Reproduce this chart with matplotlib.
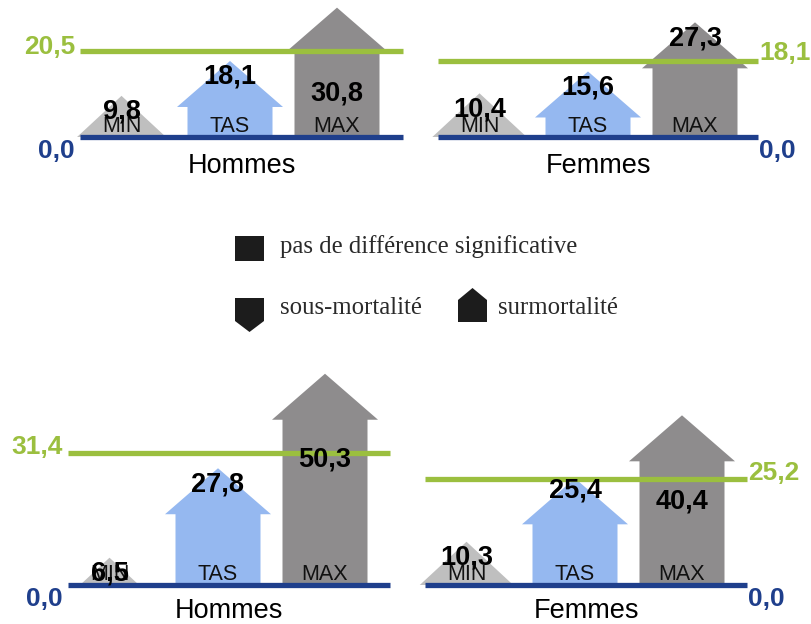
import matplotlib
matplotlib.use("Agg")
import matplotlib.pyplot as plt
from matplotlib.patches import Polygon, Rectangle

# ---------------- data ----------------
categories = ["MIN", "TAS", "MAX"]
panel_names = ["Hommes", "Femmes", "Hommes", "Femmes"]
values_hommes_top = [9.8, 18.1, 30.8]
values_femmes_top = [10.4, 15.6, 27.3]
values_hommes_bottom = [6.5, 27.8, 50.3]
values_femmes_bottom = [10.3, 25.4, 40.4]
reference_values = [20.5, 18.1, 31.4, 25.2]
baseline_values = [0.0, 0.0, 0.0, 0.0]
legend_labels = ["pas de différence significative", "sous-mortalité", "surmortalité"]

panel_values = [values_hommes_top, values_femmes_top,
                values_hommes_bottom, values_femmes_bottom]

# ---------------- style / layout ----------------
W, H = 811, 624
PXU = 4.2                       # pixels per data unit (vertical)
panel_box = [(80, 403, 137), (438, 758, 137), (68, 390, 585), (425, 747, 585)]
ref_side = ["left", "right", "left", "right"]
ref_lift = [6, 10, 9, 9]        # px, label centre above green line
name_drop = [36, 36, 33, 33]    # px, panel-name baseline below axis
cat_x = [41.5, 150, 257]        # category centres, px from panel left
label_drop = [[14, 14, 84], [14, 14, 14], [14, 14, 84], [14, 10, 84]]
shape_kind = ["tri", "house", "house"]
fills = ["#BFBFBF", "#95B8F0", "#8E8C8D"]
GREEN = "#9BBF3F"
BLUE = "#1F3F8C"
TXT = "#111111"
BODY_HW, ROOF_HW, ROOF_H = 42.5, 53.0, 46.0 / PXU
YLO, YHI = -12, 56


def fmt(v):
    return f"{v:.1f}".replace(".", ",")


fig = plt.figure(figsize=(W / 100, H / 100), dpi=100)
fig.patch.set_facecolor("white")

for i, (x0, x1, yb) in enumerate(panel_box):
    bot_px = yb - YLO * PXU
    top_px = yb - YHI * PXU
    ax = fig.add_axes([x0 / W, 1 - bot_px / H, (x1 - x0) / W, (bot_px - top_px) / H])
    ax.set_xlim(0, x1 - x0)
    ax.set_ylim(YLO, YHI)
    ax.axis("off")
    vals = panel_values[i]
    for j, v in enumerate(vals):
        c = cat_x[j]
        if shape_kind[j] == "tri":
            hw = 1.08 * v * PXU
            pts = [(c - hw, 0), (c, v), (c + hw, 0)]
        else:
            r = v - ROOF_H
            pts = [(c - BODY_HW, 0), (c - BODY_HW, r), (c - ROOF_HW, r), (c, v),
                   (c + ROOF_HW, r), (c + BODY_HW, r), (c + BODY_HW, 0)]
        ax.add_patch(Polygon(pts, closed=True, facecolor=fills[j], edgecolor="none",
                             zorder=1, clip_on=False))
        ax.text(c, 4.5 / PXU, categories[j], ha="center", va="baseline",
                fontsize=15.5, family="Liberation Sans", color=TXT, zorder=5)
    # lines
    ax.axhline(baseline_values[i], color=BLUE, lw=3.8, solid_capstyle="butt",
               zorder=3, clip_on=False)
    ax.axhline(reference_values[i], color=GREEN, lw=3.8, solid_capstyle="butt",
               zorder=3, clip_on=False)
    # value labels
    for j, v in enumerate(vals):
        ax.text(cat_x[j], v - (label_drop[i][j] + 9) / PXU, fmt(v), ha="center",
                va="baseline", fontsize=19.5, fontweight="bold",
                family="Liberation Sans", color="black", zorder=6)
    # axis value labels
    if ref_side[i] == "left":
        xt, ha = -5, "right"
    else:
        xt, ha = (x1 - x0) + 1, "left"
    ax.text(xt, reference_values[i] + ref_lift[i] / PXU, fmt(reference_values[i]),
            ha=ha, va="center_baseline", fontsize=19, fontweight="bold",
            family="Liberation Sans", color=GREEN)
    ax.text(xt, baseline_values[i] - 12 / PXU, fmt(baseline_values[i]), ha=ha,
            va="center_baseline", fontsize=19, fontweight="bold",
            family="Liberation Sans", color=BLUE)
    ax.text((x1 - x0) / 2, -name_drop[i] / PXU, panel_names[i], ha="center",
            va="baseline", fontsize=19.5, family="Liberation Sans", color="black")

# ---------------- legend ----------------
lg = fig.add_axes([0, 0, 1, 1])
lg.set_xlim(0, W)
lg.set_ylim(H, 0)
lg.axis("off")
ICON = "#1C1C1C"
lg.add_patch(Rectangle((235, 236), 29, 25, facecolor=ICON, edgecolor="none"))
lg.add_patch(Polygon([(235, 298), (264, 298), (264, 321), (249.5, 332), (235, 321)],
                     closed=True, facecolor=ICON, edgecolor="none"))
lg.add_patch(Polygon([(458, 322), (458, 300), (472.5, 288), (487, 300), (487, 322)],
                     closed=True, facecolor=ICON, edgecolor="none"))
lg.text(280, 253, legend_labels[0], ha="left", va="baseline", fontsize=17.8,
        family="Liberation Serif", color="#2a2a2a")
lg.text(280, 314, legend_labels[1], ha="left", va="baseline", fontsize=17.8,
        family="Liberation Serif", color="#2a2a2a")
lg.text(498, 314, legend_labels[2], ha="left", va="baseline", fontsize=17.8,
        family="Liberation Serif", color="#2a2a2a")

fig.savefig("out.png", dpi=100, facecolor="white")
